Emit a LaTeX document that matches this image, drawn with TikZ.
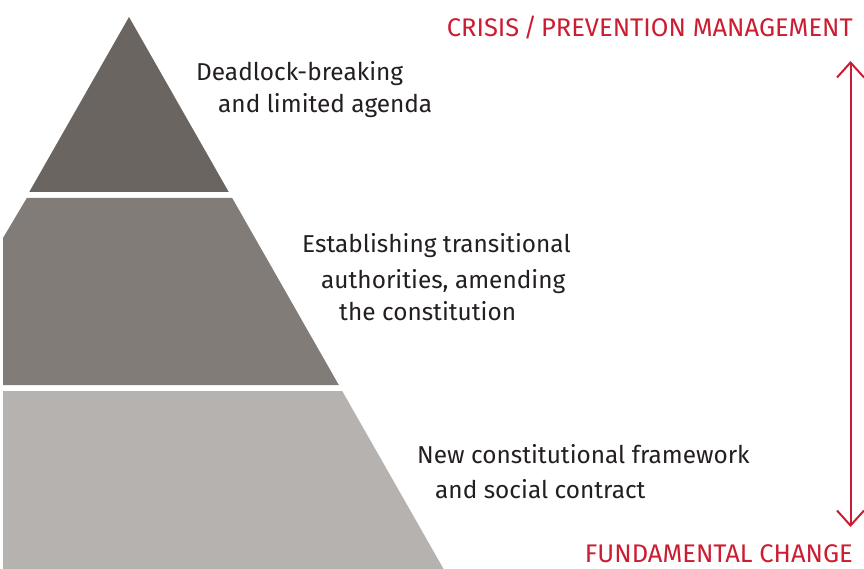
\documentclass[tikz,border=0pt]{standalone}
\usepackage{fontspec}
\setmainfont{Fira Sans}
\usetikzlibrary{arrows.meta}
\definecolor{tierA}{RGB}{107,101,97}
\definecolor{tierB}{RGB}{129,124,120}
\definecolor{tierC}{RGB}{182,178,176}
\definecolor{txt}{RGB}{35,31,32}
\definecolor{accent}{RGB}{204,28,50}
\tikzset{
  label/.style={anchor=base west,inner sep=0pt,font=\fontsize{24.4}{30}\selectfont,text=txt},
  redlabel/.style={anchor=base east,inner sep=0pt,font=\fontsize{25.5}{32}\selectfont,text=accent},
  tipstyle/.style={line width=2pt,draw=accent,{Straight Barb[length=15pt,width=27pt,line width=2pt]}-{Straight Barb[length=15pt,width=27pt,line width=2pt]}}
}
\begin{document}
\begin{tikzpicture}[x=1pt,y=-1pt]
\useasboundingbox (0,0) rectangle (864,569);
% pyramid tiers
\fill[tierA] (129,17) -- (228.75,192) -- (29.25,192) -- cycle;
\fill[tierB] (26.8,198) -- (232.2,198) -- (338.8,385) -- (3,385) -- (3,238) -- cycle;
\fill[tierC] (342.2,391) -- (443.6,569) -- (3,569) -- (3,391) -- cycle;
% labels
\node[label] (t1a) at (196,81) {Deadlock-breaking};
\node[label] (t1b) at (218,113) {and limited agenda};
\node[label] (t2a) at (302,253) {Establishing transitional};
\node[label] (t2b) at (321,288) {authorities, amending};
\node[label] (t2c) at (339,320) {the constitution};
\node[label] (t3a) at (417,463) {New constitutional framework};
\node[label] (t3b) at (435,498) {and social contract};
% red axis
\node[redlabel] (top) at (853,37) {CRISIS\,/\,PREVENTION MANAGEMENT};
\node[redlabel] (bot) at (853,562) {FUNDAMENTAL CHANGE};
\coordinate (aTop) at (850.5,61);
\coordinate (aBot) at (850.5,527);
\draw[tipstyle] (aBot) -- (aTop);
\end{tikzpicture}
\end{document}
